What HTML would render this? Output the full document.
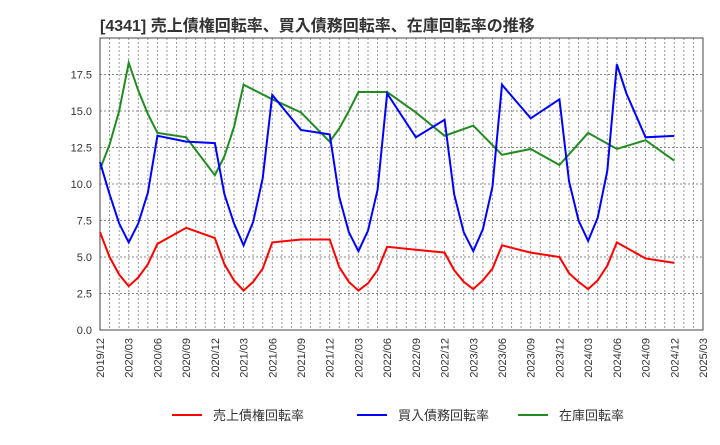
<!DOCTYPE html>
<html><head><meta charset="utf-8"><style>
body{margin:0;background:#fff;font-family:"Liberation Sans","Noto Sans CJK JP",sans-serif}
</style></head><body>
<svg id="c" width="720" height="440" xmlns="http://www.w3.org/2000/svg">
<text x="100" y="31" font-size="16" font-weight="bold" fill="#333" font-family="Liberation Sans, Noto Sans CJK JP, sans-serif">[4341]  売上債権回転率、買入債務回転率、在庫回転率の推移</text>
</svg>
<script>
const xTicks=["2019/12","2020/03","2020/06","2020/09","2020/12","2021/03","2021/06","2021/09","2021/12","2022/03","2022/06","2022/09","2022/12","2023/03","2023/06","2023/09","2023/12","2024/03","2024/06","2024/09","2024/12","2025/03"];
const yTicks=[0,2.5,5,7.5,10,12.5,15,17.5];
const redM=[0,1,2,3,4,5,6,9,12,13,14,15,16,17,18,21,24,25,26,27,28,29,30,33,36,37,38,39,40,41,42,45,48,49,50,51,52,53,54,57,60];
const redV=[6.7,5.0,3.8,3.0,3.6,4.5,5.9,7.0,6.3,4.5,3.4,2.7,3.3,4.2,6.0,6.2,6.2,4.3,3.3,2.7,3.2,4.1,5.7,5.5,5.3,4.1,3.3,2.8,3.4,4.2,5.8,5.3,5.0,3.9,3.3,2.8,3.4,4.4,6.0,4.9,4.6];
const blueM=[0,1,2,3,4,5,6,9,12,13,14,15,16,17,18,21,24,25,26,27,28,29,30,33,36,37,38,39,40,41,42,45,48,49,50,51,52,53,54,55,57,60];
const blueV=[11.5,9.3,7.3,6.0,7.3,9.4,13.3,12.9,12.8,9.3,7.3,5.8,7.4,10.4,16.1,13.7,13.4,9.1,6.7,5.4,6.8,9.6,16.2,13.2,14.4,9.3,6.7,5.4,6.9,9.8,16.8,14.5,15.8,10.2,7.5,6.1,7.7,10.9,18.2,16.2,13.2,13.3];
const greenM=[0,1,2,3,4,5,6,9,12,13,14,15,18,21,24,25,26,27,30,33,36,39,42,45,48,51,54,57,60];
const greenV=[11.0,12.7,15.0,18.3,16.4,14.8,13.5,13.2,10.6,11.9,13.9,16.8,15.8,14.9,12.9,13.8,15.0,16.3,16.3,14.9,13.3,14.0,12.0,12.4,11.3,13.5,12.4,13.0,11.6];
const svg=document.getElementById('c');const NS='http://www.w3.org/2000/svg';
const L=100,R=703,T=38,B=330,YMAX=20.0;
const x=m=>L+(R-L)*m/63;const y=v=>B-(B-T)*v/YMAX;
function mk(t,a,p){const e=document.createElementNS(NS,t);for(const k in a)e.setAttribute(k,a[k]);(p||svg).appendChild(e);return e;}
for(let m=1;m<63;m++){const g=mk('line',{x1:x(m),x2:x(m),y1:T,y2:B,stroke:'#999','stroke-dasharray':'2,2','stroke-width':1});

}
yTicks.forEach(v=>{if(v>0){const g=mk('line',{x1:L,x2:R,y1:y(v),y2:y(v),stroke:'#888','stroke-dasharray':'2,2','stroke-width':1});

}
const t=mk('text',{x:L-8,y:y(v)+4,'text-anchor':'end','font-size':11,fill:'#333'});t.textContent=v.toFixed(1);

});
xTicks.forEach((s,i)=>{const px=x(i*3);const t=mk('text',{x:px+4,y:B+8,'text-anchor':'end','font-size':11,fill:'#333',transform:`rotate(-90 ${px+4} ${B+8})`});t.textContent=s;

});
const fr=mk('rect',{x:L,y:T,width:R-L,height:B-T,fill:'none',stroke:'#444','stroke-width':1});


function line(M,V,c,n){const p=mk('polyline',{points:M.map((m,i)=>x(m)+','+y(V[i])).join(' '),fill:'none',stroke:c,'stroke-width':2});

}
line(greenM,greenV,'#228b22','inventory-turnover-line');
line(blueM,blueV,'#0000ff','payables-turnover-line');
line(redM,redV,'#ff0000','receivables-turnover-line');
const leg=[['売上債権回転率','#ff0000',172],['買入債務回転率','#0000ff',357],['在庫回転率','#228b22',518]];
leg.forEach(([s,c,lx])=>{const g=mk('g',{});


mk('line',{x1:lx,x2:lx+30,y1:415,y2:415,stroke:c,'stroke-width':2},g);
const t=mk('text',{x:lx+41,y:420,'font-size':13,fill:'#333'},g);t.textContent=s;});
</script>
</body></html>
